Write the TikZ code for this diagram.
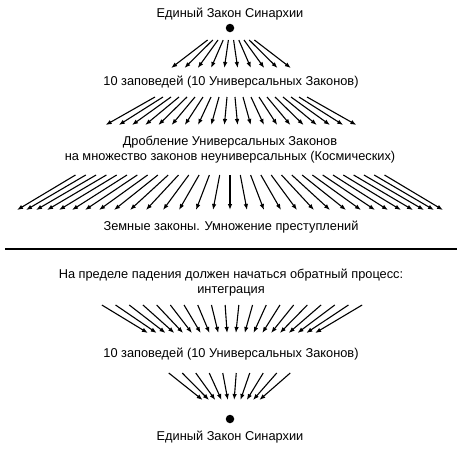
\documentclass[tikz,border=0pt]{standalone}
\usepackage{fontspec}
\setmainfont{Liberation Sans}
\usetikzlibrary{arrows.meta}
\begin{document}
\begin{tikzpicture}[x=1pt,y=-1pt,
  lbl/.style={font=\fontsize{12.8}{15}\selectfont, inner sep=0pt, align=center},
  arr/.style={line width=1.1pt, -{Latex[length=6pt,width=4.5pt]}},
  dotnode/.style={circle, fill=black, minimum size=8.5pt, inner sep=0pt},
  rule/.style={line width=2.5pt}]
\useasboundingbox (0,0) rectangle (463,450);
% texts and dots
\node[lbl] (t1) at (230,14.5) {Единый Закон Синархии};
\node[dotnode] (d1) at (230,28) {};
\node[lbl] (t2) at (231,82) {10 заповедей (10 Универсальных Законов)};
\node[lbl] (t3) at (230,150) {Дробление Универсальных Законов\\на множество законов неуниверсальных (Космических)};
\node[lbl] (t4) at (231,227) {Земные законы. Умножение преступлений};
\coordinate (r1) at (5,249);
\coordinate (r2) at (457,249);
\draw[rule] (r1) -- (r2);
\node[lbl] (t5) at (231,283) {На пределе падения должен начаться обратный процесс:\\интеграция};
\node[lbl] (t6) at (231,354) {10 заповедей (10 Универсальных Законов)};
\node[dotnode] (d2) at (230,419) {};
\node[lbl] (t7) at (230,437) {Единый Закон Синархии};
% fan 1
\foreach \i in {0,...,9} {
  \pgfmathsetmacro\sx{231+(\i-4.5)*5.2}
  \pgfmathsetmacro\ex{231+(\i-4.5)*13.3}
  \coordinate (fas\i) at (\sx,40);
  \coordinate (fae\i) at (\ex,68);
  \draw[arr] (fas\i) -- (fae\i);
}
% fan 2
\foreach \i in {0,...,19} {
  \pgfmathsetmacro\sx{231+(\i-9.5)*8}
  \pgfmathsetmacro\ex{231+(\i-9.5)*13.2}
  \coordinate (fbs\i) at (\sx,97);
  \coordinate (fbe\i) at (\ex,125);
  \draw[arr] (fbs\i) -- (fbe\i);
}
% fan 3
\coordinate (fcs15) at (230,175);
\coordinate (fce15) at (230,210);
\draw[arr] (fcs15) -- (fce15);
\foreach \k/\o in {1/17,2/34,3/51,4/67,5/84,6/100,7/116,8/131,9/145,10/158,11/171,12/183,13/194,14/204,15/213} {
  \pgfmathtruncatemacro\l{15-\k}
  \pgfmathtruncatemacro\r{15+\k}
  \pgfmathsetmacro\sl{230-\k*10.3}
  \pgfmathsetmacro\sr{230+\k*10.3}
  \pgfmathsetmacro\el{230-\o}
  \pgfmathsetmacro\er{230+\o}
  \coordinate (fcs\l) at (\sl,175);
  \coordinate (fce\l) at (\el,210);
  \coordinate (fcs\r) at (\sr,175);
  \coordinate (fce\r) at (\er,210);
  \draw[arr] (fcs\l) -- (fce\l);
  \draw[arr] (fcs\r) -- (fce\r);
}
% fan 4
\foreach \i in {0,...,19} {
  \pgfmathsetmacro\sx{232+(\i-9.5)*13.7}
  \pgfmathsetmacro\ex{231.5+(\i-9.5)*8.8}
  \coordinate (fds\i) at (\sx,305);
  \coordinate (fde\i) at (\ex,333);
  \draw[arr] (fds\i) -- (fde\i);
}
% fan 5
\foreach \i in {0,...,9} {
  \pgfmathsetmacro\sx{229.5+(\i-4.5)*13.5}
  \pgfmathsetmacro\ex{231+(\i-4.5)*6.3}
  \coordinate (fes\i) at (\sx,373);
  \coordinate (fee\i) at (\ex,400);
  \draw[arr] (fes\i) -- (fee\i);
}
\end{tikzpicture}
\end{document}
